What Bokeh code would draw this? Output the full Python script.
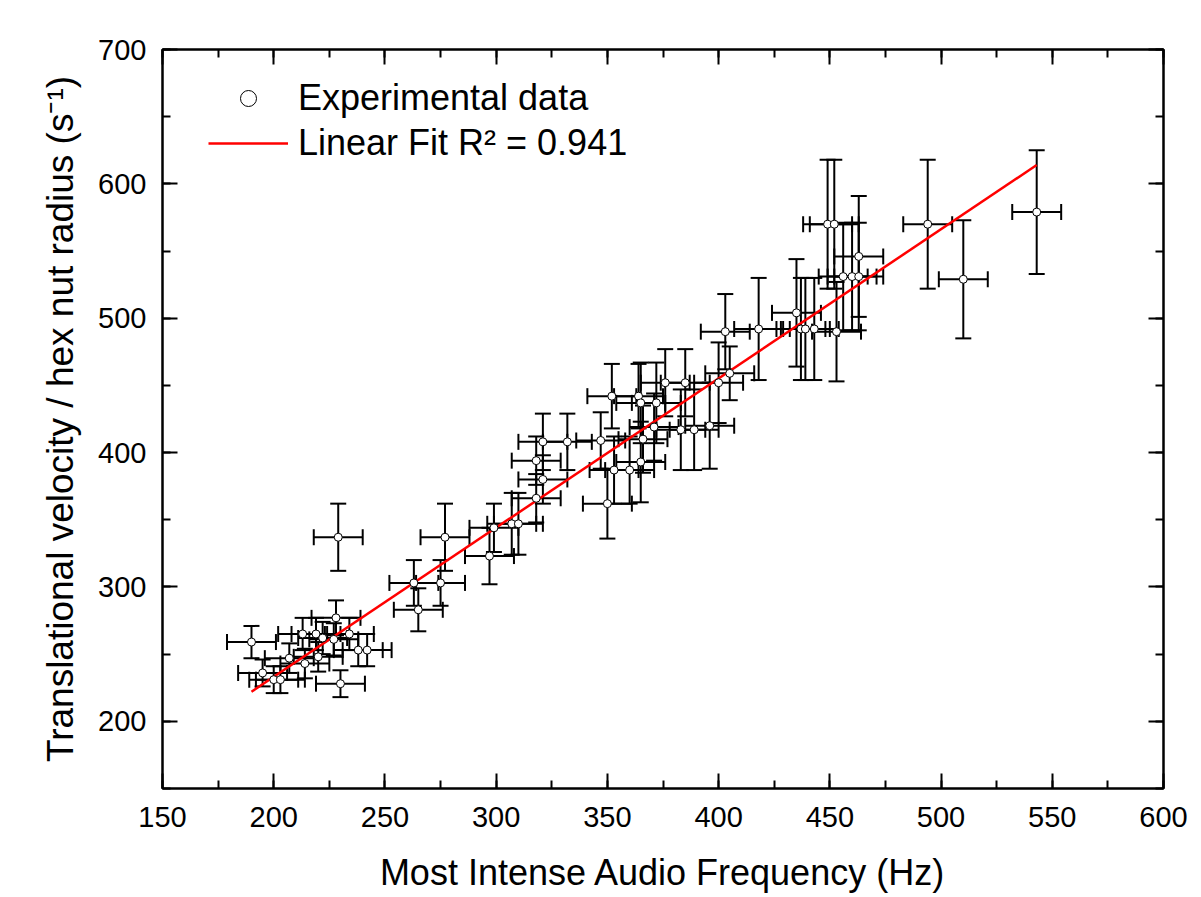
from bokeh.plotting import figure
from bokeh.models import (ColumnDataSource, Whisker, TeeHead, LinearAxis,
                          SingleIntervalTicker, Legend, LegendItem, Range1d)
from bokeh.embed import file_html
from bokeh.resources import INLINE

freq = [190, 195, 200, 203, 207, 213, 214, 219, 220, 222, 227, 228, 229, 230,
        234, 238, 242, 263, 265, 275, 277, 297, 299, 307, 310, 318, 321, 318,
        321, 332, 347, 350, 352, 353, 360, 364, 365, 365, 366, 371, 372, 376,
        383, 385, 389, 396, 400, 405, 403, 418, 435, 437, 439, 443, 453, 449,
        452, 456, 460, 463, 463, 494, 510, 543]
vel = [259, 236, 231, 231, 247, 265, 243, 265, 248, 262, 261, 277, 337, 228,
       265, 253, 253, 303, 283, 303, 337, 323, 344, 347, 347, 366, 380, 394,
       408, 408, 409, 362, 442, 387, 387, 442, 437, 393, 410, 419, 437, 452,
       417, 452, 417, 420, 452, 459, 490, 492, 504, 492, 492, 492, 490, 570,
       570, 531, 531, 531, 546, 570, 529, 579]
freq_err = [11] * 64
vel_err = [12, 10, 10, 10, 11, 12, 11, 12, 11, 12, 12, 13, 25, 10,
           12, 12, 12, 17, 16, 17, 25, 21, 18, 23, 23, 18, 18, 18,
           21, 21, 21, 26, 24, 25, 25, 24, 30, 30, 25, 25, 30, 25,
           30, 25, 30, 32, 30, 20, 28, 38, 40, 38, 38, 38, 37, 48,
           48, 40, 40, 40, 45, 48, 44, 46]

# Linear fit line end points
fit_x = [190, 543]
fit_y = [222, 614]

x_ticks_interval = 50
y_ticks_interval = 100

FONT = "Liberation Sans"

src = ColumnDataSource(dict(
    x=freq, y=vel,
    xl=[a - e for a, e in zip(freq, freq_err)],
    xu=[a + e for a, e in zip(freq, freq_err)],
    yl=[a - e for a, e in zip(vel, vel_err)],
    yu=[a + e for a, e in zip(vel, vel_err)],
))

p = figure(width=1201, height=897, x_range=Range1d(150, 600), y_range=Range1d(150, 700),
           output_backend="svg", toolbar_location=None,
           min_border_left=162, min_border_right=38, min_border_top=49, min_border_bottom=109,
           background_fill_color="white", border_fill_color="white")
p.xgrid.visible = False
p.ygrid.visible = False
p.outline_line_color = "black"
p.outline_line_width = 2
p.outline_line_alpha = 1

xt = SingleIntervalTicker(interval=x_ticks_interval, num_minor_ticks=2)
yt = SingleIntervalTicker(interval=y_ticks_interval, num_minor_ticks=2)

def style_axis(ax, ticker, show_labels=True):
    ax.ticker = ticker
    ax.axis_line_color = "black"
    ax.axis_line_width = 2
    ax.major_tick_in = 15
    ax.major_tick_out = 0
    ax.minor_tick_in = 8
    ax.minor_tick_out = 0
    ax.major_tick_line_width = 2
    ax.minor_tick_line_width = 2
    ax.major_tick_line_color = "black"
    ax.minor_tick_line_color = "black"
    ax.major_label_text_font = FONT
    ax.major_label_text_color = "black" if show_labels else None
    ax.major_label_text_font_size = "29px" if show_labels else "1px"
    ax.axis_label_text_font = FONT
    ax.axis_label_text_font_style = "normal"
    ax.axis_label_text_color = "black"

style_axis(p.xaxis[0], xt)
style_axis(p.yaxis[0], yt)
p.xaxis[0].major_label_standoff = 18
p.yaxis[0].major_label_standoff = 16
p.xaxis[0].axis_label = "Most Intense Audio Frequency (Hz)"
p.yaxis[0].axis_label = "Translational velocity / hex nut radius (s\u207b\u00b9)"
p.xaxis[0].axis_label_text_font_size = "36px"
p.yaxis[0].axis_label_text_font_size = "37px"
p.xaxis[0].axis_label_standoff = 22
p.yaxis[0].axis_label_standoff = 14

top_ax = LinearAxis()
style_axis(top_ax, SingleIntervalTicker(interval=x_ticks_interval, num_minor_ticks=2), False)
right_ax = LinearAxis()
style_axis(right_ax, SingleIntervalTicker(interval=y_ticks_interval, num_minor_ticks=2), False)
p.add_layout(top_ax, "above")
p.add_layout(right_ax, "right")

head = dict(size=16, line_width=2, line_color="black")
wy = Whisker(base="x", lower="yl", upper="yu", dimension="height", source=src,
             line_width=2, line_color="black",
             upper_head=TeeHead(**head), lower_head=TeeHead(**head))
wx = Whisker(base="y", lower="xl", upper="xu", dimension="width", source=src,
             line_width=2, line_color="black",
             upper_head=TeeHead(**head), lower_head=TeeHead(**head))
p.add_layout(wy)
p.add_layout(wx)

ln = p.line(fit_x, fit_y, line_color="#ff0000", line_width=2.5)
sc = p.scatter("x", "y", source=src, size=8, marker="circle",
               fill_color="white", line_color="black", line_width=1)

legend = Legend(items=[LegendItem(label="Experimental data", renderers=[sc]),
                       LegendItem(label="Linear Fit R\u00b2 = 0.941", renderers=[ln])],
                location=(46, 624), margin=0, padding=0, border_line_color=None,
                background_fill_alpha=0, glyph_width=80, glyph_height=40,
                label_height=40, label_standoff=10, spacing=3,
                label_text_font=FONT, label_text_font_size="36px", label_text_color="black")
p.add_layout(legend, "center")

open("out.html", "w").write(file_html(p, INLINE))
